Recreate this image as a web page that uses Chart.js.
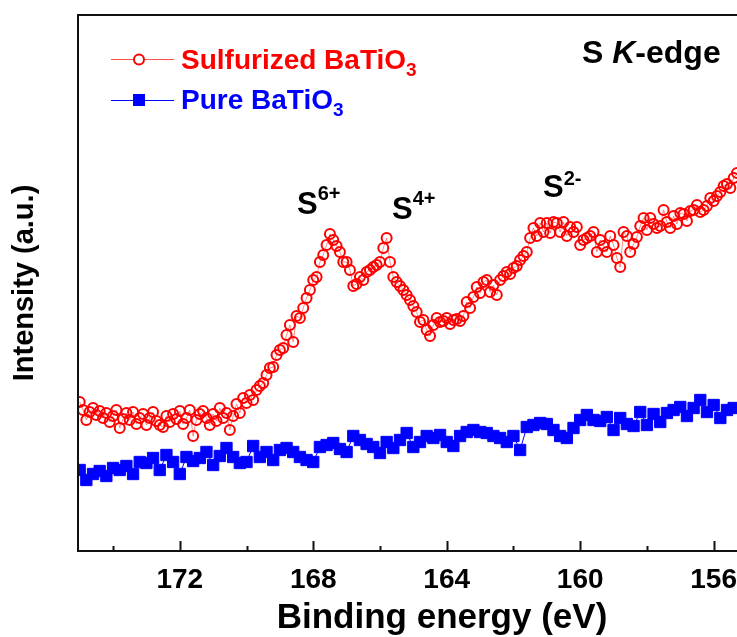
<!DOCTYPE html>
<html>
<head>
<meta charset="utf-8">
<script src="https://cdn.jsdelivr.net/npm/chart.js@4.4.1/dist/chart.umd.min.js"></script>
<style>
  html, body { margin: 0; padding: 0; background: #fff; }
</style>
</head>
<body>
<canvas id="xas" width="737" height="637"></canvas>
<script>
const FONT = "'Liberation Sans', Arial, sans-serif";

// binding energy grid (eV) for the sulfurized sample
const sulfEnergy = [
  175.0,174.9,174.8,174.7,174.6,174.5,174.4,174.3,174.2,174.1,
  174.0,173.9,173.8,173.7,173.6,173.5,173.4,173.3,173.2,173.1,
  173.0,172.9,172.8,172.7,172.6,172.5,172.4,172.3,172.2,172.1,
  172.0,171.9,171.8,171.7,171.6,171.5,171.4,171.3,171.2,171.1,
  171.0,170.9,170.8,170.7,170.6,170.5,170.4,170.3,170.2,170.1,
  170.0,169.9,169.8,169.7,169.6,169.5,169.4,169.3,169.2,169.1,
  169.0,168.9,168.8,168.7,168.6,168.5,168.4,168.3,168.2,168.1,
  168.0,167.9,167.8,167.7,167.6,167.5,167.4,167.3,167.2,167.1,
  167.0,166.9,166.8,166.7,166.6,166.5,166.4,166.3,166.2,166.1,
  166.0,165.9,165.8,165.7,165.6,165.5,165.4,165.3,165.2,165.1,
  165.0,164.9,164.8,164.7,164.6,164.5,164.4,164.3,164.2,164.1,
  164.0,163.9,163.8,163.7,163.6,163.5,163.4,163.3,163.2,163.1,
  163.0,162.9,162.8,162.7,162.6,162.5,162.4,162.3,162.2,162.1,
  162.0,161.9,161.8,161.7,161.6,161.5,161.4,161.3,161.2,161.1,
  161.0,160.9,160.8,160.7,160.6,160.5,160.4,160.3,160.2,160.1,
  160.0,159.9,159.8,159.7,159.6,159.5,159.4,159.3,159.2,159.1,
  159.0,158.9,158.8,158.7,158.6,158.5,158.4,158.3,158.2,158.1,
  158.0,157.9,157.8,157.7,157.6,157.5,157.4,157.3,157.2,157.1,
  157.0,156.9,156.8,156.7,156.6,156.5,156.4,156.3,156.2,156.1,
  156.0,155.9,155.8,155.7,155.6,155.5,155.4,155.3
];
// intensity (a.u.) of sulfurized BaTiO3
const sulfIntensity = [
  149,141,131,139,143,136,140,133,138,129,
  135,141,123,132,138,131,139,127,133,137,
  126,133,139,130,126,124,135,129,137,132,
  140,127,133,141,115,131,137,140,133,126,
  137,130,143,133,138,121,135,147,138,153,
  148,156,151,161,165,168,176,183,184,196,
  201,203,216,226,209,235,233,243,253,261,
  271,274,289,296,306,317,311,305,299,289,
  289,281,265,267,274,271,279,281,284,286,
  289,303,313,289,274,269,265,261,256,251,
  245,239,229,231,221,215,226,233,229,230,
  233,227,231,232,230,235,249,243,254,264,
  258,269,271,259,266,256,271,275,279,277,
  283,285,291,295,299,313,323,315,328,319,
  328,318,329,328,319,329,315,324,319,324,
  306,311,313,315,319,299,311,305,299,315,
  306,293,284,319,315,299,307,314,325,333,
  321,333,327,323,325,341,329,323,335,327,
  338,337,330,340,341,346,339,341,345,353,
  350,355,359,365,367,363,373,378
];

// binding energy grid (eV) for the pure sample
const pureEnergy = [
  175.0,174.8,174.6,174.4,174.2,174.0,173.8,173.6,173.4,173.2,
  173.0,172.8,172.6,172.4,172.2,172.0,171.8,171.6,171.4,171.2,
  171.0,170.8,170.6,170.4,170.2,170.0,169.8,169.6,169.4,169.2,
  169.0,168.8,168.6,168.4,168.2,168.0,167.8,167.6,167.4,167.2,
  167.0,166.8,166.6,166.4,166.2,166.0,165.8,165.6,165.4,165.2,
  165.0,164.8,164.6,164.4,164.2,164.0,163.8,163.6,163.4,163.2,
  163.0,162.8,162.6,162.4,162.2,162.0,161.8,161.6,161.4,161.2,
  161.0,160.8,160.6,160.4,160.2,160.0,159.8,159.6,159.4,159.2,
  159.0,158.8,158.6,158.4,158.2,158.0,157.8,157.6,157.4,157.2,
  157.0,156.8,156.6,156.4,156.2,156.0,155.8,155.6,155.4
];
// intensity (a.u.) of pure BaTiO3
const pureIntensity = [
  81,71,77,80,75,83,81,85,77,89,
  88,93,81,96,89,77,94,90,93,99,
  86,95,103,94,88,89,105,94,99,91,
  101,103,99,94,91,89,104,106,108,102,
  99,115,111,107,104,98,109,103,111,118,
  104,109,115,113,116,109,105,115,119,121,
  119,118,115,113,109,115,101,124,126,128,
  127,121,115,113,123,131,136,131,130,134,
  121,133,127,125,139,126,137,129,138,141,
  144,135,143,151,139,146,133,141,143
];

const majorTicks = [172, 168, 164, 160, 156];
const minorTicks = [174, 170, 166, 162, 158];

const toPoints = (xs, ys) => xs.map((x, i) => ({ x: x, y: ys[i] }));

// draws a run of text pieces (normal / italic / sub / sup) from x on baseline y
function richText(ctx, x, y, parts, color) {
  ctx.save();
  ctx.fillStyle = color;
  ctx.textBaseline = "alphabetic";
  ctx.textAlign = "left";
  parts.forEach(p => {
    ctx.font = (p.italic ? "italic " : "") + "bold " + p.size + "px " + FONT;
    ctx.fillText(p.t, x, y + (p.dy || 0));
    x += ctx.measureText(p.t).width;
  });
  ctx.restore();
}

const framePlugin = {
  id: "frame",
  afterDraw(chart) {
    const { ctx, chartArea: a } = chart;
    const xs = chart.scales.x;
    ctx.save();
    ctx.strokeStyle = "#111";
    ctx.lineWidth = 2;
    ctx.beginPath();
    ctx.moveTo(740, a.top);
    ctx.lineTo(a.left, a.top);
    ctx.lineTo(a.left, a.bottom);
    ctx.lineTo(740, a.bottom);
    ctx.stroke();

    // inward ticks on the bottom axis
    ctx.beginPath();
    majorTicks.forEach(v => {
      const px = Math.round(xs.getPixelForValue(v)) + 0.5;
      ctx.moveTo(px, a.bottom);
      ctx.lineTo(px, a.bottom - 10);
    });
    minorTicks.forEach(v => {
      const px = Math.round(xs.getPixelForValue(v)) + 0.5;
      ctx.moveTo(px, a.bottom);
      ctx.lineTo(px, a.bottom - 5);
    });
    ctx.stroke();

    // axis title (the original plot runs past the right edge, so it is centred off-middle)
    ctx.fillStyle = "#000";
    ctx.font = "bold 35px " + FONT;
    ctx.textAlign = "center";
    ctx.textBaseline = "alphabetic";
    ctx.fillText("Binding energy (eV)", 442, 628);

    // legend
    ctx.lineWidth = 1;
    ctx.strokeStyle = "#ff5050";
    ctx.beginPath();
    ctx.moveTo(111, 59.5);
    ctx.lineTo(174, 59.5);
    ctx.stroke();
    ctx.fillStyle = "#fff";
    ctx.strokeStyle = "#ff0000";
    ctx.lineWidth = 2;
    ctx.beginPath();
    ctx.arc(139, 59.5, 5, 0, Math.PI * 2);
    ctx.fill();
    ctx.stroke();

    ctx.lineWidth = 1;
    ctx.strokeStyle = "#0000ff";
    ctx.beginPath();
    ctx.moveTo(111, 100.5);
    ctx.lineTo(174, 100.5);
    ctx.stroke();
    ctx.fillStyle = "#0000ff";
    ctx.fillRect(133, 94, 12, 12);
    ctx.restore();

    richText(ctx, 181, 69, [
      { t: "Sulfurized BaTiO", size: 28 },
      { t: "3", size: 19, dy: 7 }
    ], "#ff0000");
    richText(ctx, 181, 109, [
      { t: "Pure BaTiO", size: 28 },
      { t: "3", size: 19, dy: 7 }
    ], "#0000ff");

    richText(ctx, 582, 63, [
      { t: "S ", size: 32 },
      { t: "K", size: 32, italic: true },
      { t: "-edge", size: 32 }
    ], "#000");

    // oxidation state labels
    richText(ctx, 297, 214, [{ t: "S", size: 31 }, { t: "6+", size: 20, dy: -14 }], "#000");
    richText(ctx, 392, 219, [{ t: "S", size: 31 }, { t: "4+", size: 20, dy: -14 }], "#000");
    richText(ctx, 543, 197, [{ t: "S", size: 31 }, { t: "2-", size: 20, dy: -12 }], "#000");
  }
};

new Chart(document.getElementById("xas"), {
  type: "line",
  data: {
    datasets: [
      {
        label: "Pure BaTiO3",
        data: toPoints(pureEnergy, pureIntensity),
        borderColor: "#0000ff",
        borderWidth: 1,
        pointStyle: "rect",
        pointRadius: 8,
        pointBorderWidth: 1,
        pointBackgroundColor: "#0000ff",
        pointBorderColor: "#0000ff",
        tension: 0
      },
      {
        label: "Sulfurized BaTiO3",
        data: toPoints(sulfEnergy, sulfIntensity),
        borderColor: "rgba(255,90,90,0.7)",
        borderWidth: 1,
        pointStyle: "circle",
        pointRadius: 5,
        pointBorderWidth: 2,
        pointBackgroundColor: "rgba(255,255,255,0)",
        pointBorderColor: "#ff0000",
        tension: 0
      }
    ]
  },
  options: {
    responsive: false,
    animation: false,
    devicePixelRatio: 1,
    layout: { autoPadding: false, padding: { top: 15, right: 0, left: 0, bottom: 0 } },
    plugins: { legend: { display: false }, tooltip: { enabled: false } },
    scales: {
      x: {
        type: "linear",
        reverse: true,
        min: 155.3,
        max: 175.05,
        afterBuildTicks: s => { s.ticks = majorTicks.map(v => ({ value: v })); },
        afterFit: s => { s.height = 86; s.paddingLeft = 0; s.paddingRight = 0; },
        grid: { display: false, drawTicks: false },
        border: { display: false },
        ticks: {
          padding: 12,
          color: "#000",
          maxRotation: 0,
          autoSkip: false,
          font: { family: FONT, size: 28, weight: "bold" }
        },
        title: { display: false }
      },
      y: {
        min: 0,
        max: 536,
        afterFit: s => { s.width = 78; },
        ticks: { display: false },
        grid: { display: false },
        border: { display: false },
        title: {
          display: true,
          text: "Intensity (a.u.)",
          color: "#000",
          padding: { top: 10, bottom: 0 },
          font: { family: FONT, size: 29, weight: "bold", lineHeight: 1 }
        }
      }
    }
  },
  plugins: [framePlugin]
});
</script>
</body>
</html>
